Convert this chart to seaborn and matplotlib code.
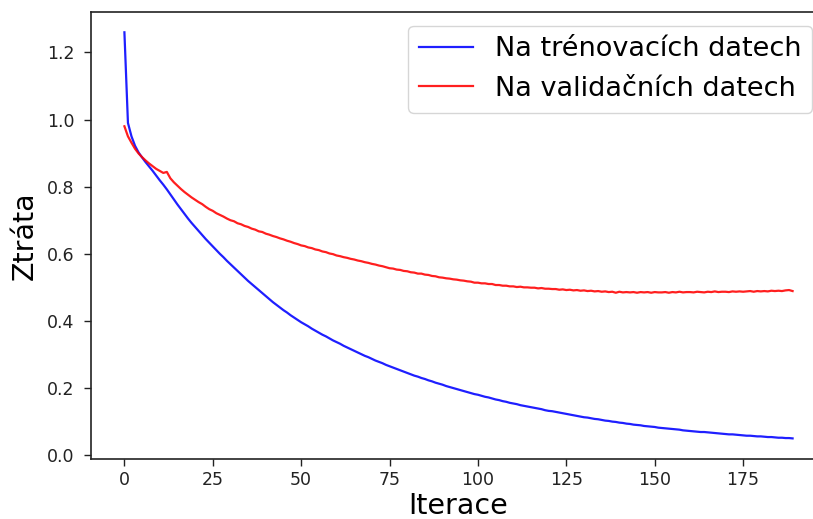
import matplotlib
matplotlib.use("Agg")
import matplotlib.pyplot as plt
import seaborn as sns
import pandas as pd

# ---------------- data ----------------
iterations = list(range(190))

train_loss = [
    1.260, 0.990, 0.950, 0.922, 0.902, 0.887, 0.873, 0.860, 0.847, 0.833,
    0.819, 0.806, 0.792, 0.777, 0.762, 0.747, 0.733, 0.719, 0.705, 0.692,
    0.680, 0.668, 0.656, 0.644, 0.633, 0.622, 0.611, 0.600, 0.590, 0.579,
    0.569, 0.559, 0.549, 0.539, 0.529, 0.519, 0.510, 0.501, 0.492, 0.483,
    0.474, 0.465, 0.456, 0.448, 0.440, 0.432, 0.425, 0.417, 0.410, 0.403,
    0.396, 0.390, 0.384, 0.377, 0.371, 0.365, 0.359, 0.354, 0.348, 0.342,
    0.337, 0.332, 0.326, 0.321, 0.316, 0.311, 0.306, 0.301, 0.296, 0.292,
    0.287, 0.282, 0.278, 0.274, 0.269, 0.265, 0.261, 0.257, 0.253, 0.249,
    0.245, 0.241, 0.237, 0.234, 0.230, 0.227, 0.223, 0.220, 0.216, 0.213,
    0.210, 0.206, 0.203, 0.200, 0.197, 0.194, 0.191, 0.188, 0.185, 0.182,
    0.180, 0.177, 0.174, 0.172, 0.169, 0.166, 0.164, 0.161, 0.159, 0.156,
    0.154, 0.152, 0.149, 0.147, 0.145, 0.143, 0.141, 0.139, 0.137, 0.134,
    0.132, 0.131, 0.129, 0.127, 0.125, 0.123, 0.121, 0.119, 0.117, 0.115,
    0.113, 0.112, 0.110, 0.108, 0.107, 0.105, 0.103, 0.102, 0.100, 0.099,
    0.097, 0.096, 0.094, 0.093, 0.091, 0.090, 0.089, 0.087, 0.086, 0.085,
    0.084, 0.082, 0.081, 0.080, 0.079, 0.078, 0.077, 0.076, 0.074, 0.073,
    0.072, 0.071, 0.070, 0.069, 0.069, 0.068, 0.067, 0.066, 0.065, 0.064,
    0.063, 0.062, 0.062, 0.061, 0.060, 0.059, 0.058, 0.058, 0.057, 0.056,
    0.056, 0.055, 0.054, 0.054, 0.053, 0.052, 0.052, 0.051, 0.051, 0.050,
]

val_loss = [
    0.980, 0.950, 0.931, 0.913, 0.899, 0.888, 0.878, 0.869, 0.861, 0.853,
    0.847, 0.841, 0.844, 0.825, 0.813, 0.803, 0.793, 0.784, 0.776, 0.768,
    0.761, 0.754, 0.748, 0.740, 0.733, 0.728, 0.721, 0.716, 0.711, 0.705,
    0.700, 0.697, 0.691, 0.688, 0.683, 0.680, 0.675, 0.672, 0.667, 0.665,
    0.660, 0.657, 0.653, 0.650, 0.646, 0.643, 0.639, 0.636, 0.632, 0.629,
    0.625, 0.623, 0.619, 0.617, 0.613, 0.611, 0.607, 0.605, 0.601, 0.599,
    0.595, 0.593, 0.590, 0.588, 0.585, 0.583, 0.580, 0.578, 0.575, 0.573,
    0.570, 0.568, 0.565, 0.563, 0.560, 0.557, 0.556, 0.553, 0.552, 0.549,
    0.548, 0.545, 0.544, 0.541, 0.541, 0.538, 0.537, 0.534, 0.533, 0.530,
    0.529, 0.527, 0.526, 0.524, 0.523, 0.521, 0.520, 0.518, 0.517, 0.514,
    0.514, 0.512, 0.512, 0.510, 0.510, 0.507, 0.507, 0.505, 0.505, 0.503,
    0.503, 0.501, 0.502, 0.500, 0.500, 0.499, 0.499, 0.497, 0.498, 0.496,
    0.496, 0.495, 0.495, 0.493, 0.494, 0.492, 0.493, 0.491, 0.492, 0.490,
    0.491, 0.489, 0.490, 0.488, 0.489, 0.487, 0.488, 0.486, 0.487, 0.484,
    0.487, 0.485, 0.486, 0.485, 0.486, 0.484, 0.486, 0.485, 0.486, 0.484,
    0.486, 0.485, 0.485, 0.486, 0.484, 0.486, 0.485, 0.487, 0.485, 0.486,
    0.486, 0.485, 0.487, 0.486, 0.485, 0.487, 0.486, 0.488, 0.486, 0.487,
    0.487, 0.486, 0.488, 0.487, 0.488, 0.487, 0.488, 0.489, 0.487, 0.489,
    0.488, 0.489, 0.488, 0.490, 0.489, 0.490, 0.489, 0.491, 0.492, 0.489,
]

label_train = "Na trénovacích datech"
label_val = "Na validačních datech"
x_label = "Iterace"
y_label = "Ztráta"
x_ticks = [0, 25, 50, 75, 100, 125, 150, 175]
y_ticks = [0.0, 0.2, 0.4, 0.6, 0.8, 1.0, 1.2]

# ---------------- plot ----------------
plt.rcParams["font.family"] = ["DejaVu Sans"]

df_train = pd.DataFrame({"it": iterations, "loss": train_loss})
df_val = pd.DataFrame({"it": iterations, "loss": val_loss})

fig = plt.figure(figsize=(8.13, 5.19), dpi=100)
# the reference picture is cropped slightly before the axes' right edge
ax = fig.add_axes([91 / 813, (519 - 458.7) / 519, 735 / 813, 446.7 / 519])

sns.lineplot(data=df_train, x="it", y="loss", color="blue", alpha=0.88,
             linewidth=1.6, label=label_train, ax=ax)
sns.lineplot(data=df_val, x="it", y="loss", color="red", alpha=0.88,
             linewidth=1.6, label=label_val, ax=ax)

ax.set_xticks(x_ticks)
ax.set_yticks(y_ticks)
ax.set_xticklabels([str(t) for t in x_ticks])
ax.set_yticklabels([f"{t:.1f}" for t in y_ticks])
ax.margins(x=0.05, y=0.05)

ax.tick_params(axis="both", labelsize=12.5, length=5, width=1, colors="#222222")
ax.tick_params(axis="x", pad=4)
ax.tick_params(axis="y", pad=7)
for s in ax.spines.values():
    s.set_linewidth(1.2)
    s.set_color("#222222")
ax.spines["right"].set_visible(False)

ax.set_xlabel(x_label, fontsize=20.5, labelpad=2)
ax.set_ylabel(y_label, fontsize=20.5, labelpad=6)

ax.legend(loc="upper right", fontsize=19.5, frameon=True)

fig.savefig("out.png", dpi=100)
